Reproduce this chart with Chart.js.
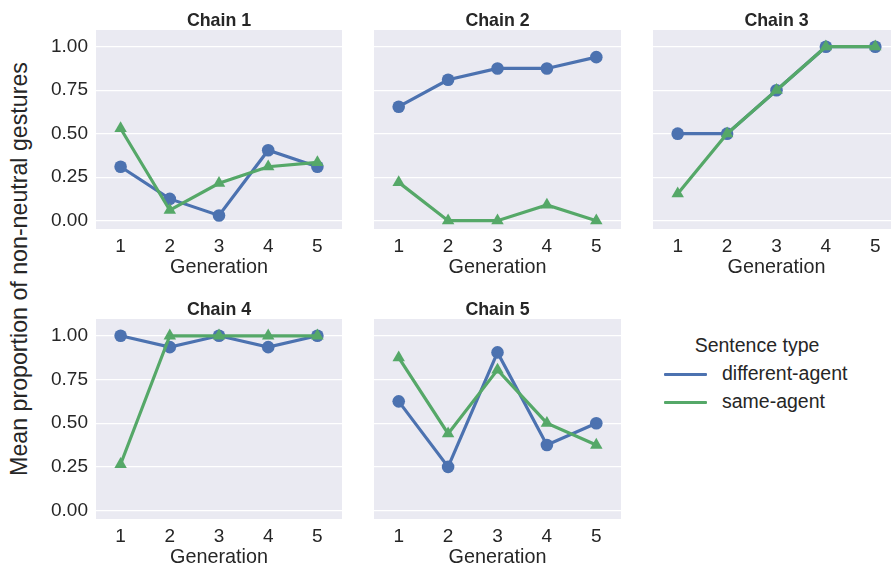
<!DOCTYPE html>
<html>
<head>
<meta charset="utf-8">
<script src="https://cdn.jsdelivr.net/npm/chart.js@4"></script>
<style>
  html, body { margin: 0; padding: 0; background: #ffffff; }
  body { width: 891px; height: 567px; overflow: hidden; position: relative;
         font-family: "Liberation Sans", Arial, sans-serif; color: #262626; }
  canvas { position: absolute; }
  #ylabel { position: absolute; left: 19px; top: 269px; white-space: nowrap; font-size: 23.2px;
            transform: translate(-50%, -50%) rotate(-90deg); }
  #legend { position: absolute; left: 664px; top: 330px; width: 195px; font-size: 19.5px; }
  #legend .title { position: absolute; left: 0; width: 186px; top: 4px; text-align: center; }
  #legend .item { position: absolute; left: 0; height: 28px; line-height: 28px; white-space: nowrap; }
  #legend .swatch { display: inline-block; width: 43px; height: 3px; vertical-align: middle; margin-right: 15px; border-radius: 1px; }
</style>
</head>
<body>
<div id="ylabel">Mean proportion of non-neutral gestures</div>
<div id="legend"></div>
<script>
// Generations on the x axis, y tick values, and one pair of series per chain
const generations = ['1', '2', '3', '4', '5'];
const yTicks = [0, 0.25, 0.5, 0.75, 1.0];
const seriesNames = ['different-agent', 'same-agent'];
const legendTitle = 'Sentence type';
const chainTitles = ['Chain 1', 'Chain 2', 'Chain 3', 'Chain 4', 'Chain 5'];

const chain1Different = [0.31, 0.125, 0.03, 0.405, 0.31];
const chain1Same      = [0.53, 0.06, 0.215, 0.31, 0.335];
const chain2Different = [0.655, 0.81, 0.875, 0.875, 0.94];
const chain2Same      = [0.22, 0.0, 0.0, 0.09, 0.0];
const chain3Different = [0.5, 0.5, 0.75, 1.0, 1.0];
const chain3Same      = [0.155, 0.5, 0.75, 1.0, 1.0];
const chain4Different = [1.0, 0.935, 1.0, 0.935, 1.0];
const chain4Same      = [0.265, 1.0, 1.0, 1.0, 1.0];
const chain5Different = [0.625, 0.25, 0.905, 0.375, 0.5];
const chain5Same      = [0.875, 0.44, 0.805, 0.5, 0.375];

const chainData = [
  [chain1Different, chain1Same],
  [chain2Different, chain2Same],
  [chain3Different, chain3Same],
  [chain4Different, chain4Same],
  [chain5Different, chain5Same],
];

// Styling
const FONT = '"Liberation Sans", Arial, sans-serif';
const TEXT = '#262626';
const BLUE = '#4C72B0';
const GREEN = '#55A868';
const PANEL_BG = '#EAEAF2';

// Plot-area boxes for the 2x3 facet grid (last cell holds the legend);
// the third column runs past the right edge of the page
const layout = [
  { left: 96,  right: 342, top: 30,  bottom: 229, yLabels: true },
  { left: 374, right: 621, top: 30,  bottom: 229, yLabels: false },
  { left: 653, right: 900, top: 30,  bottom: 229, yLabels: false },
  { left: 96,  right: 342, top: 319, bottom: 519, yLabels: true },
  { left: 374, right: 621, top: 319, bottom: 519, yLabels: false },
];
const TITLE_SPACE = 32;
const XAXIS_H = 52;
const YAXIS_W = 60;

const plotBackground = {
  id: 'plotBackground',
  beforeDraw(chart) {
    const a = chart.chartArea, ctx = chart.ctx;
    ctx.save();
    ctx.fillStyle = PANEL_BG;
    ctx.fillRect(a.left, a.top, a.right - a.left, a.bottom - a.top);
    ctx.restore();
  }
};

const panelTitle = {
  id: 'panelTitle',
  afterDraw(chart, args, opts) {
    const a = chart.chartArea, ctx = chart.ctx;
    ctx.save();
    ctx.font = 'bold 17.8px ' + FONT;
    ctx.fillStyle = TEXT;
    ctx.textAlign = 'center';
    ctx.textBaseline = 'alphabetic';
    ctx.fillText(opts.text, (a.left + a.right) / 2, a.top - 4);
    ctx.restore();
  }
};

layout.forEach((box, i) => {
  const yw = box.yLabels ? YAXIS_W : 0;
  const canvas = document.createElement('canvas');
  const w = (box.right - box.left) + yw;
  const h = (box.bottom - box.top) + TITLE_SPACE + XAXIS_H;
  canvas.width = w; canvas.height = h;
  canvas.style.width = w + 'px'; canvas.style.height = h + 'px';
  canvas.style.left = (box.left - yw) + 'px';
  canvas.style.top = (box.top - TITLE_SPACE) + 'px';
  document.body.appendChild(canvas);

  const [diff, same] = chainData[i];
  new Chart(canvas, {
    type: 'line',
    data: {
      labels: generations,
      datasets: [
        { label: seriesNames[0], data: diff, order: 1,
          borderColor: BLUE, backgroundColor: BLUE, borderWidth: 3.2,
          pointStyle: 'circle', pointRadius: 6.3, pointBorderWidth: 0,
          pointBackgroundColor: BLUE, tension: 0 },
        { label: seriesNames[1], data: same, order: 0,
          borderColor: GREEN, backgroundColor: GREEN, borderWidth: 3.2,
          pointStyle: 'triangle', pointRadius: 7.2, pointBorderWidth: 0,
          pointBackgroundColor: GREEN, tension: 0 },
      ]
    },
    options: {
      responsive: false,
      animation: false,
      devicePixelRatio: 1,
      layout: { autoPadding: false, padding: { top: TITLE_SPACE, left: 0, right: 0, bottom: 0 } },
      plugins: {
        legend: { display: false },
        tooltip: { enabled: false },
        panelTitle: { text: chainTitles[i] },
      },
      scales: {
        x: {
          type: 'category',
          offset: true,
          grid: { display: false, drawTicks: false },
          border: { display: false },
          ticks: { padding: 6, color: TEXT, font: { size: 19, family: FONT } },
          title: { display: true, text: 'Generation', color: TEXT,
                   padding: { top: 0, bottom: 1.5 }, font: { size: 19.8, family: FONT } },
          afterFit(scale) { scale.height = XAXIS_H; }
        },
        y: {
          min: -0.048,
          max: 1.096,
          grid: { color: '#ffffff', lineWidth: 1.2, drawTicks: false },
          border: { display: false },
          afterBuildTicks(scale) { scale.ticks = yTicks.map(v => ({ value: v })); },
          ticks: { display: box.yLabels, padding: 8, color: TEXT,
                   font: { size: 19, family: FONT },
                   callback: v => Number(v).toFixed(2) },
          afterFit(scale) { scale.width = yw; }
        }
      }
    },
    plugins: [plotBackground, panelTitle]
  });
});

// Legend for the two sentence types
const legend = document.getElementById('legend');
const t = document.createElement('div');
t.className = 'title';
t.textContent = legendTitle;
legend.appendChild(t);
[BLUE, GREEN].forEach((c, k) => {
  const item = document.createElement('div');
  item.className = 'item';
  item.style.top = (29 + k * 28) + 'px';
  const sw = document.createElement('span');
  sw.className = 'swatch';
  sw.style.background = c;
  item.appendChild(sw);
  item.appendChild(document.createTextNode(seriesNames[k]));
  legend.appendChild(item);
});
</script>
</body>
</html>
